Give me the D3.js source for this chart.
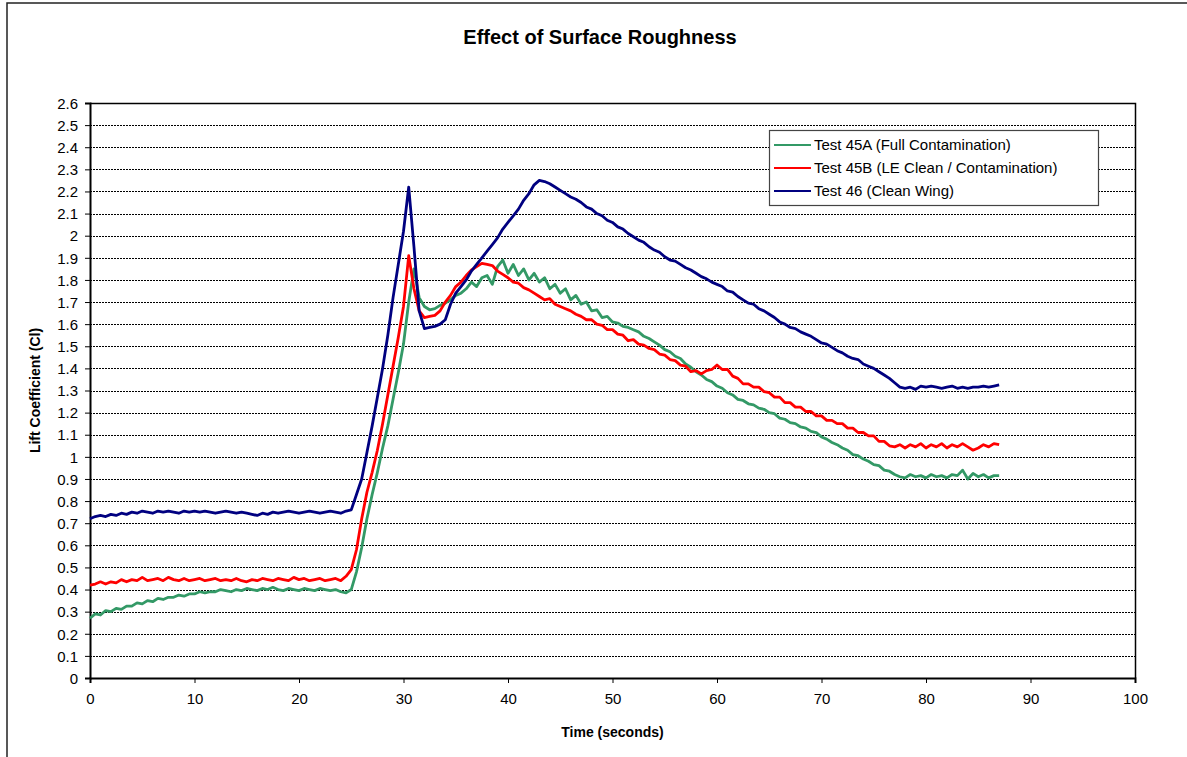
<!DOCTYPE html>
<html>
<head>
<meta charset="utf-8">
<script src="https://cdn.jsdelivr.net/npm/d3@7"></script>
<style>
  body { margin: 0; background: #fff; }
  svg { display: block; font-family: "Liberation Sans", Arial, sans-serif; }
</style>
</head>
<body>
<div id="chart"></div>
<script>
// samples every 0.5 s, from 0 to 87 s
const sampleStep = 0.5;

const test45A = [
  0.27, 0.29, 0.285, 0.305, 0.30, 0.315, 0.31, 0.325, 0.325, 0.34,
  0.335, 0.35, 0.345, 0.36, 0.355, 0.365, 0.365, 0.375, 0.37, 0.38,
  0.38, 0.39, 0.385, 0.39, 0.39, 0.40, 0.395, 0.39, 0.40, 0.395,
  0.405, 0.40, 0.395, 0.405, 0.40, 0.41, 0.40, 0.395, 0.405, 0.40,
  0.395, 0.405, 0.40, 0.395, 0.405, 0.40, 0.395, 0.40, 0.39, 0.385,
  0.40, 0.48, 0.59, 0.72, 0.83, 0.93, 1.04, 1.14, 1.26, 1.38,
  1.51, 1.70, 1.85, 1.72, 1.68, 1.665, 1.67, 1.685, 1.695, 1.71,
  1.73, 1.74, 1.76, 1.79, 1.77, 1.81, 1.82, 1.78, 1.86, 1.89,
  1.83, 1.87, 1.82, 1.85, 1.80, 1.83, 1.79, 1.81, 1.76, 1.78,
  1.74, 1.76, 1.71, 1.73, 1.69, 1.70, 1.66, 1.665, 1.63, 1.635,
  1.61, 1.605, 1.59, 1.585, 1.575, 1.565, 1.545, 1.535, 1.52, 1.505,
  1.485, 1.475, 1.455, 1.445, 1.42, 1.405, 1.385, 1.37, 1.35, 1.34,
  1.32, 1.31, 1.29, 1.28, 1.26, 1.255, 1.24, 1.235, 1.22, 1.215,
  1.20, 1.195, 1.175, 1.17, 1.155, 1.15, 1.135, 1.13, 1.115, 1.11,
  1.09, 1.08, 1.065, 1.055, 1.04, 1.03, 1.01, 1.005, 0.99, 0.98,
  0.965, 0.96, 0.94, 0.935, 0.92, 0.91, 0.905, 0.92, 0.91, 0.915,
  0.905, 0.92, 0.91, 0.915, 0.905, 0.92, 0.915, 0.94, 0.90, 0.925,
  0.91, 0.92, 0.905, 0.915, 0.915
];

const test45B = [
  0.42, 0.425, 0.435, 0.425, 0.435, 0.43, 0.445, 0.435, 0.445, 0.44,
  0.455, 0.44, 0.445, 0.45, 0.44, 0.455, 0.445, 0.44, 0.45, 0.44,
  0.445, 0.45, 0.44, 0.445, 0.45, 0.44, 0.445, 0.44, 0.45, 0.44,
  0.435, 0.445, 0.44, 0.45, 0.445, 0.44, 0.45, 0.445, 0.44, 0.455,
  0.445, 0.45, 0.44, 0.445, 0.45, 0.44, 0.445, 0.45, 0.44, 0.46,
  0.49, 0.58, 0.72, 0.84, 0.93, 1.03, 1.15, 1.28, 1.41, 1.54,
  1.68, 1.91, 1.76, 1.66, 1.63, 1.635, 1.64, 1.66, 1.70, 1.73,
  1.77, 1.79, 1.82, 1.845, 1.86, 1.875, 1.87, 1.865, 1.84, 1.825,
  1.81, 1.79, 1.785, 1.765, 1.755, 1.74, 1.725, 1.71, 1.715, 1.69,
  1.68, 1.67, 1.66, 1.645, 1.635, 1.62, 1.62, 1.60, 1.595, 1.575,
  1.575, 1.555, 1.55, 1.525, 1.53, 1.51, 1.505, 1.49, 1.485, 1.465,
  1.46, 1.44, 1.435, 1.415, 1.41, 1.385, 1.39, 1.375, 1.39, 1.395,
  1.415, 1.395, 1.395, 1.365, 1.355, 1.33, 1.33, 1.315, 1.315, 1.295,
  1.29, 1.27, 1.27, 1.245, 1.245, 1.225, 1.225, 1.205, 1.205, 1.185,
  1.185, 1.165, 1.165, 1.15, 1.15, 1.13, 1.13, 1.11, 1.11, 1.095,
  1.095, 1.07, 1.07, 1.05, 1.045, 1.055, 1.04, 1.055, 1.045, 1.06,
  1.04, 1.055, 1.045, 1.06, 1.04, 1.055, 1.045, 1.06, 1.045, 1.03,
  1.04, 1.055, 1.045, 1.06, 1.055
];

const test46 = [
  0.72, 0.73, 0.735, 0.73, 0.74, 0.735, 0.745, 0.74, 0.75, 0.745,
  0.755, 0.75, 0.745, 0.755, 0.75, 0.755, 0.75, 0.745, 0.755, 0.75,
  0.755, 0.75, 0.755, 0.75, 0.745, 0.75, 0.755, 0.75, 0.745, 0.75,
  0.745, 0.74, 0.735, 0.745, 0.74, 0.75, 0.745, 0.75, 0.755, 0.75,
  0.745, 0.75, 0.755, 0.75, 0.745, 0.75, 0.755, 0.75, 0.745, 0.755,
  0.76, 0.83, 0.90, 1.02, 1.14, 1.27, 1.40, 1.55, 1.72, 1.87,
  2.02, 2.22, 1.95, 1.66, 1.58, 1.585, 1.59, 1.60, 1.62, 1.69,
  1.74, 1.77, 1.80, 1.84, 1.87, 1.90, 1.93, 1.96, 1.99, 2.03,
  2.06, 2.09, 2.12, 2.16, 2.19, 2.23, 2.25, 2.245, 2.235, 2.22,
  2.205, 2.19, 2.175, 2.165, 2.15, 2.13, 2.12, 2.10, 2.09, 2.07,
  2.06, 2.04, 2.03, 2.01, 1.995, 1.98, 1.97, 1.95, 1.935, 1.925,
  1.905, 1.89, 1.885, 1.87, 1.855, 1.845, 1.83, 1.815, 1.805, 1.79,
  1.78, 1.77, 1.75, 1.745, 1.725, 1.71, 1.695, 1.69, 1.67, 1.66,
  1.645, 1.63, 1.61, 1.60, 1.585, 1.58, 1.565, 1.555, 1.545, 1.53,
  1.515, 1.51, 1.495, 1.48, 1.47, 1.455, 1.445, 1.44, 1.42, 1.41,
  1.40, 1.385, 1.37, 1.355, 1.335, 1.315, 1.31, 1.315, 1.305, 1.32,
  1.315, 1.32, 1.315, 1.31, 1.315, 1.32, 1.31, 1.315, 1.31, 1.315,
  1.315, 1.32, 1.315, 1.32, 1.325
];

const seriesNames = [
  "Test 45A (Full Contamination)",
  "Test 45B (LE Clean / Contamination)",
  "Test 46 (Clean Wing)"
];
const seriesColors = ["#339966", "#ff0000", "#000080"];

const xTicks = [0, 10, 20, 30, 40, 50, 60, 70, 80, 90, 100];
const yTicks = [0, 0.1, 0.2, 0.3, 0.4, 0.5, 0.6, 0.7, 0.8, 0.9, 1, 1.1, 1.2,
  1.3, 1.4, 1.5, 1.6, 1.7, 1.8, 1.9, 2, 2.1, 2.2, 2.3, 2.4, 2.5, 2.6];

const width = 1187, height = 757;
const plot = { left: 90, top: 103, right: 1135, bottom: 678 };

const svg = d3.select("#chart").append("svg")
  .attr("width", width)
  .attr("height", height);

// outer chart border
svg.append("rect")
  .attr("x", 7).attr("y", 3)
  .attr("width", 1300).attr("height", 900)
  .attr("fill", "#fff")
  .attr("stroke", "#222")
  .attr("stroke-width", 1.5);

const x = d3.scaleLinear().domain([0, 100]).range([plot.left, plot.right]);
const y = d3.scaleLinear().domain([0, 2.6]).range([plot.bottom, plot.top]);

// gridlines
svg.append("g")
  .selectAll("line")
  .data(yTicks.filter(d => d > 0 && d < 2.6))
  .join("line")
    .attr("x1", plot.left).attr("x2", plot.right)
    .attr("y1", d => Math.round(y(d)) + 0.5)
    .attr("y2", d => Math.round(y(d)) + 0.5)
    .attr("stroke", "#000")
    .attr("stroke-width", 1)
    .attr("stroke-dasharray", "2,1");

// plot frame top / right
svg.append("path")
  .attr("d", `M${plot.left},${plot.top + 0.5}H${plot.right + 0.5}V${plot.bottom}`)
  .attr("fill", "none")
  .attr("stroke", "#000")
  .attr("stroke-width", 1.5);

// axes
const xAxis = svg.append("g")
  .attr("transform", `translate(0,${plot.bottom})`)
  .call(d3.axisBottom(x).tickValues(xTicks).tickSize(5).tickPadding(10).tickFormat(d3.format("d")));

const yAxis = svg.append("g")
  .attr("transform", `translate(${plot.left},0)`)
  .call(d3.axisLeft(y).tickValues(yTicks).tickSize(5).tickPadding(7).tickFormat(d => String(d)));

[xAxis, yAxis].forEach(g => {
  g.select(".domain").attr("stroke", "#000").attr("stroke-width", 2);
  g.selectAll(".tick line").attr("stroke", "#000");
  g.selectAll(".tick text")
    .attr("fill", "#000")
    .style("font-family", "'Liberation Sans', Arial, sans-serif")
    .style("font-size", "15px");
});
yAxis.selectAll(".tick text").attr("dy", "0.35em");

// series lines
const line = d3.line()
  .x((d, i) => x(i * sampleStep))
  .y(d => y(d));

[test45A, test45B, test46].forEach((vals, k) => {
  svg.append("path")
    .datum(vals)
    .attr("fill", "none")
    .attr("stroke", seriesColors[k])
    .attr("stroke-width", 2.8)
    .attr("stroke-linejoin", "round")
    .attr("d", line);
});

// title
svg.append("text")
  .attr("x", 600).attr("y", 44)
  .attr("text-anchor", "middle")
  .style("font-size", "20px")
  .style("font-weight", "bold")
  .text("Effect of Surface Roughness");

svg.append("text")
  .attr("x", (plot.left + plot.right) / 2).attr("y", 737)
  .attr("text-anchor", "middle")
  .style("font-size", "14px")
  .style("font-weight", "bold")
  .text("Time (seconds)");

svg.append("text")
  .attr("transform", `translate(40,${(plot.top + plot.bottom) / 2}) rotate(-90)`)
  .attr("text-anchor", "middle")
  .style("font-size", "14px")
  .style("font-weight", "bold")
  .text("Lift Coefficient (Cl)");

// legend
const legend = svg.append("g").attr("transform", "translate(769,130)");
legend.append("rect")
  .attr("x", 0.5).attr("y", 0.5)
  .attr("width", 329).attr("height", 75)
  .attr("fill", "#fff")
  .attr("stroke", "#444")
  .attr("stroke-width", 1.2);

seriesNames.forEach((name, i) => {
  const row = legend.append("g").attr("transform", `translate(0,${15 + i * 23})`);
  row.append("line")
    .attr("x1", 5).attr("x2", 42)
    .attr("stroke", seriesColors[i])
    .attr("stroke-width", 2);
  row.append("text")
    .attr("x", 45).attr("dy", "0.35em")
    .style("font-size", "15px")
    .text(name);
});
</script>
</body>
</html>
